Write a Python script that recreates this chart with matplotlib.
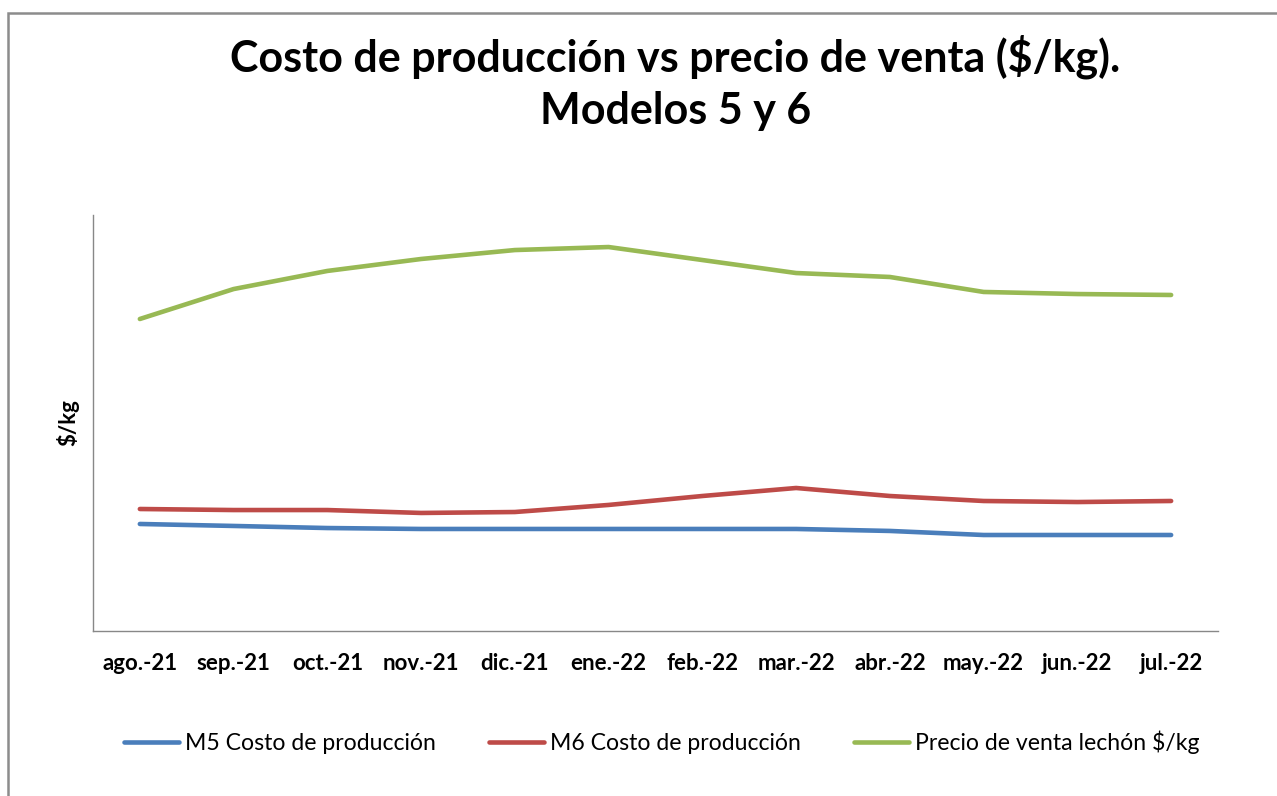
import matplotlib.pyplot as plt
from matplotlib.patches import Rectangle

# ------------- Daten -------------
MESES = ["ago.-21", "sep.-21", "oct.-21", "nov.-21", "dic.-21", "ene.-22",
         "feb.-22", "mar.-22", "abr.-22", "may.-22", "jun.-22", "jul.-22"]
M5_COSTO = [1029, 1010, 990, 981, 981, 981, 981, 981, 962, 923, 923, 923]
M6_COSTO = [1173, 1163, 1163, 1135, 1144, 1212, 1298, 1375, 1298, 1250, 1240, 1250]
PRECIO_VENTA = [3000, 3288, 3462, 3577, 3663, 3692, 3567, 3442, 3404, 3260, 3240, 3231]

SERIES = [
    ("M5 Costo de producción", M5_COSTO, "#4A7EBB"),
    ("M6 Costo de producción", M6_COSTO, "#BE4B48"),
    ("Precio de venta lechón $/kg", PRECIO_VENTA, "#98B954"),
]
# ------------- Ende Daten -------------

plt.rcParams["font.family"] = ["Lato", "DejaVu Sans"]

fig = plt.figure(figsize=(12.77, 7.96), dpi=100)
ax = fig.add_axes([0.0728, 0.2073, 0.881, 0.5226])

x = list(range(len(MESES)))
for label, vals, color in SERIES:
    ax.plot(x, vals, color=color, lw=3.3, solid_capstyle="round", label=label)

ax.set_xlim(-0.5, len(MESES) - 0.5)
ax.set_ylim(0, 4000)
ax.set_xticks(x)
ax.set_xticklabels(MESES, fontsize=16, fontweight="bold")
ax.set_yticks([])
ax.tick_params(axis="x", length=0, pad=16)
for s in ("top", "right"):
    ax.spines[s].set_visible(False)
for s in ("left", "bottom"):
    ax.spines[s].set_color("#888888")
    ax.spines[s].set_linewidth(1.0)

ax.set_ylabel("$/kg", fontsize=16, fontweight="bold", labelpad=10)

fig.text(0.529, 0.896, "Costo de producción vs precio de venta ($/kg).\nModelos 5 y 6",
         ha="center", va="center", fontsize=31, fontweight="bold", linespacing=1.38)

fig.legend(loc="center", bbox_to_anchor=(0.518, 0.067), ncol=3, frameon=False,
           fontsize=16.6, handlelength=2.4, handletextpad=0.25, columnspacing=2.3)

# Rahmen
fig.patches.append(Rectangle((8 / 1277, -0.1), 1.2, 1 - 13 / 796 + 0.1,
                             transform=fig.transFigure, fill=False,
                             edgecolor="#8c8c8c", lw=1.8))

fig.savefig("out.png", dpi=100)
